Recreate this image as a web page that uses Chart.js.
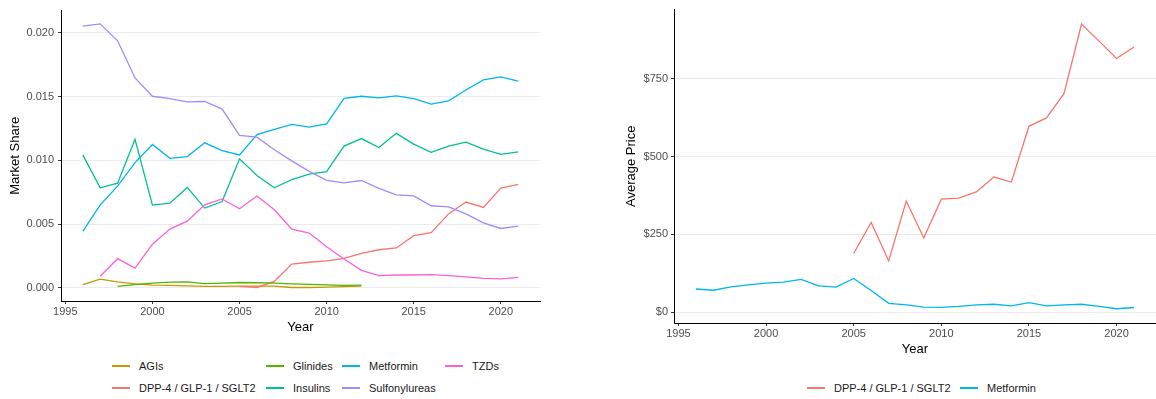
<!DOCTYPE html>
<html>
<head>
<meta charset="utf-8">
<script src="https://cdn.jsdelivr.net/npm/chart.js@4/dist/chart.umd.min.js"></script>
<style>
  html, body { margin: 0; padding: 0; background: #ffffff; }
  #wrap { position: relative; width: 1156px; height: 399px; overflow: hidden; font-family: "Liberation Sans", Arial, sans-serif; }
  canvas { position: absolute; top: 0; }
  #c1 { left: 0; }
  #c2 { left: 600px; }
  .leg { position: absolute; height: 14px; line-height: 14px; font-size: 11px; color: #1a1a1a; white-space: nowrap; }
  .leg .key { display: inline-block; width: 18px; height: 1.5px; vertical-align: middle; margin-right: 9px; position: relative; top: -1px; }
</style>
</head>
<body>
<div id="wrap">
  <canvas id="c1" width="560" height="340"></canvas>
  <canvas id="c2" width="556" height="365"></canvas>
  <div id="legend"></div>
</div>
<script>
// ---- Data ----
const years = [1996,1997,1998,1999,2000,2001,2002,2003,2004,2005,2006,2007,2008,2009,2010,2011,2012,2013,2014,2015,2016,2017,2018,2019,2020,2021];
const xTicks = [1995, 2000, 2005, 2010, 2015, 2020];
const shareTicks = [0, 0.005, 0.010, 0.015, 0.020];
const priceTicks = [0, 250, 500, 750];

const seriesNames = ["AGIs", "DPP-4 / GLP-1 / SGLT2", "Glinides", "Insulins", "Metformin", "Sulfonylureas", "TZDs"];
const seriesColors = ["#C49A00", "#F8766D", "#53B400", "#00C094", "#00B6EB", "#A58AFF", "#FB61D7"];

const agis = [0.00025,0.00067,0.00046,0.00031,0.00021,0.00018,0.00015,0.00010,0.00010,0.00013,0.00013,0.00013,0.00002,0.00002,0.00005,0.00008,0.00013,null,null,null,null,null,null,null,null,null];
const dpp = [null,null,null,null,null,null,null,null,null,0.00010,0.00002,0.00050,0.00185,0.00200,0.00210,0.00230,0.00270,0.00298,0.00312,0.00409,0.00432,0.00579,0.00672,0.00630,0.00781,0.00810];
const glinides = [null,null,0.00010,0.00025,0.00036,0.00044,0.00046,0.00033,0.00036,0.00041,0.00039,0.00036,0.00031,0.00026,0.00023,0.00018,0.00020,null,null,null,null,null,null,null,null,null];
const insulins = [0.01042,0.00784,0.00820,0.01165,0.00648,0.00663,0.00787,0.00625,0.00676,0.01011,0.00880,0.00784,0.00849,0.00892,0.00910,0.01111,0.01170,0.01100,0.01211,0.01127,0.01062,0.01111,0.01142,0.01088,0.01046,0.01065];
const metformin = [0.00442,0.00650,0.00797,0.00982,0.01124,0.01015,0.01029,0.01137,0.01075,0.01042,0.01201,0.01242,0.01281,0.01260,0.01286,0.01486,0.01502,0.01489,0.01505,0.01484,0.01440,0.01466,0.01551,0.01630,0.01654,0.01620];
const sulfonylureas = [0.02053,0.02070,0.01937,0.01646,0.01502,0.01484,0.01458,0.01461,0.01401,0.01196,0.01181,0.01083,0.00995,0.00913,0.00843,0.00823,0.00841,0.00779,0.00728,0.00720,0.00643,0.00635,0.00579,0.00509,0.00465,0.00483];
const tzds = [null,0.00090,0.00228,0.00154,0.00342,0.00460,0.00522,0.00650,0.00697,0.00620,0.00720,0.00612,0.00460,0.00429,0.00321,0.00226,0.00136,0.00095,0.00100,0.00100,0.00103,0.00095,0.00085,0.00074,0.00069,0.00082];

const priceDpp = [null,null,null,null,null,null,null,null,null,188,288,164,357,238,363,366,386,434,418,597,624,702,926,871,815,852];
const priceMetformin = [74,70,81,87,93,96,105,84,80,108,69,28,23,16,15,18,23,25,20,30,20,23,25,18,10.5,14.6];

const shareSeries = [agis, dpp, glinides, insulins, metformin, sulfonylureas, tzds];
const priceNames = ["DPP-4 / GLP-1 / SGLT2", "Metformin"];
const priceColors = ["#F8766D", "#00B6EB"];
const priceSeries = [priceDpp, priceMetformin];

// ---- Common styling ----
Chart.defaults.font.family = '"Liberation Sans", Arial, sans-serif';
Chart.defaults.animation = false;

const tickFont = { size: 11 };
const titleFont = { size: 13 };

function lineDataset(label, data, color, idx, n) {
  return {
    label, data,
    borderColor: color, backgroundColor: color,
    borderWidth: 1.3, pointRadius: 0, pointHoverRadius: 0,
    tension: 0, spanGaps: false, fill: false,
    order: n - idx
  };
}

function xScale(height, titlePad) {
  return {
    type: 'linear', min: 1994.75, max: 2022.25,
    afterBuildTicks: s => { s.ticks = xTicks.map(v => ({ value: v })); },
    afterFit: s => { s.height = height; },
    ticks: { font: tickFont, color: '#4D4D4D', padding: 1.5, maxRotation: 0, autoSkip: false, callback: v => String(v) },
    grid: { display: true, drawOnChartArea: false, drawTicks: true, tickLength: 3, tickColor: '#333333', tickWidth: 1 },
    border: { display: true, color: '#000000', width: 1 },
    title: { display: true, text: 'Year', font: titleFont, color: '#000000', padding: { top: 0, bottom: titlePad } }
  };
}

function yScale(width, min, max, ticks, fmt, title, titlePad, tickPad) {
  return {
    type: 'linear', min, max,
    afterBuildTicks: s => { s.ticks = ticks.map(v => ({ value: v })); },
    afterFit: s => { s.width = width; },
    ticks: { font: tickFont, color: '#4D4D4D', padding: tickPad, callback: fmt },
    grid: { display: true, drawOnChartArea: true, color: '#EBEBEB', lineWidth: 1, drawTicks: true, tickLength: 3, tickColor: '#333333', tickWidth: 1 },
    border: { display: true, color: '#000000', width: 1 },
    title: { display: true, text: title, font: titleFont, color: '#000000', padding: { top: titlePad, bottom: 0 } }
  };
}

// ---- Left chart: market share ----
new Chart(document.getElementById('c1'), {
  type: 'line',
  data: {
    labels: years,
    datasets: shareSeries.map((d, i) => lineDataset(seriesNames[i], d, seriesColors[i], i, shareSeries.length))
  },
  options: {
    responsive: false, devicePixelRatio: 1,
    layout: { padding: { top: 6, right: 20, left: 0, bottom: 0 } },
    plugins: { legend: { display: false }, tooltip: { enabled: false } },
    scales: {
      x: xScale(39, 5),
      y: yScale(61, -0.00104, 0.02174, shareTicks, v => Number(v).toFixed(3), 'Market Share', 8, 4)
    }
  }
});

// ---- Right chart: average price ----
new Chart(document.getElementById('c2'), {
  type: 'line',
  data: {
    labels: years,
    datasets: priceSeries.map((d, i) => lineDataset(priceNames[i], d, priceColors[i], i, priceSeries.length))
  },
  options: {
    responsive: false, devicePixelRatio: 1,
    layout: { padding: { top: 6, right: 0, left: 0, bottom: 0 } },
    plugins: { legend: { display: false }, tooltip: { enabled: false } },
    scales: {
      x: xScale(42, 8),
      y: yScale(74, -35.3, 972.3, priceTicks, v => '$' + v, 'Average Price', 24, 3)
    }
  }
});

// ---- Legends (HTML text) ----
const legend = document.getElementById('legend');
function addLegend(name, color, left, centerY) {
  const d = document.createElement('div');
  d.className = 'leg';
  d.style.left = left + 'px';
  d.style.top = (centerY - 7) + 'px';
  const k = document.createElement('span');
  k.className = 'key';
  k.style.background = color;
  d.appendChild(k);
  d.appendChild(document.createTextNode(name));
  legend.appendChild(d);
}
// left legend: 4 columns x 2 rows, filled by column
const legCols = [112, 266, 342, 445];
const legRows = [366, 388];
seriesNames.forEach((n, i) => {
  addLegend(n, seriesColors[i], legCols[Math.floor(i / 2)], legRows[i % 2]);
});
// right legend: single row
const rightLeg = [807, 960];
priceNames.forEach((n, i) => addLegend(n, priceColors[i], rightLeg[i], 388));
</script>
</body>
</html>
